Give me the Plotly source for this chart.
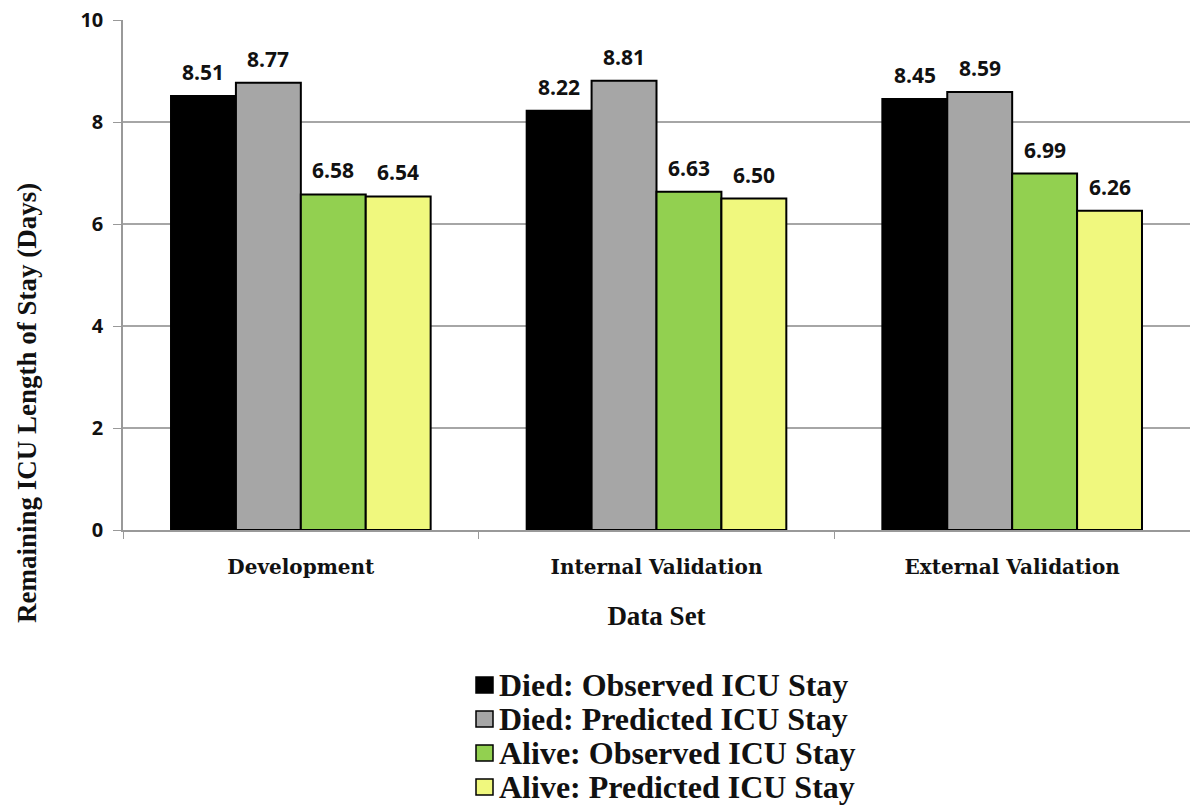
import plotly.graph_objects as go

# Data: remaining ICU length of stay (days) by data set
categories = ["Development", "Internal Validation", "External Validation"]
series_names = [
    "Died: Observed ICU Stay",
    "Died: Predicted ICU Stay",
    "Alive: Observed ICU Stay",
    "Alive: Predicted ICU Stay",
]
died_observed = [8.51, 8.22, 8.45]
died_predicted = [8.77, 8.81, 8.59]
alive_observed = [6.58, 6.63, 6.99]
alive_predicted = [6.54, 6.50, 6.26]
y_ticks = [0, 2, 4, 6, 8, 10]

series_values = [died_observed, died_predicted, alive_observed, alive_predicted]
colors = ["#000000", "#a6a6a6", "#92d050", "#f0f87e"]

SERIF = "Liberation Serif, serif"
SERIF_WIDE = "DejaVu Serif, serif"
SANS = "Open Sans, Lato, DejaVu Sans, sans-serif"

W, H = 1190, 808
ML, MR, MT, MB = 123, 0, 20, 278
BARGAP = 0.27

fig = go.Figure()
for name, vals, col in zip(series_names, series_values, colors):
    fig.add_trace(go.Bar(
        x=categories,
        y=vals,
        name=name,
        marker=dict(color=col, line=dict(color="#000000", width=2)),
        showlegend=False,
    ))

# Value labels above each bar, positioned from the bar values
pw, ph = W - ML - MR, H - MT - MB
bar_px = pw / len(categories) * (1 - BARGAP) / len(series_names)
for i, vals in enumerate(series_values):
    off = (i - (len(series_names) - 1) / 2) * bar_px
    for cat, v in zip(categories, vals):
        fig.add_annotation(
            x=cat, y=v, xref="x", yref="y",
            text=f"{v:.2f}", showarrow=False,
            xanchor="center", yanchor="bottom",
            xshift=off, yshift=8,
            font=dict(family=SANS, size=21, color="#111111", weight="bold"),
        )

fig.update_layout(
    width=W, height=H,
    margin=dict(l=ML, r=MR, t=MT, b=MB, pad=0),
    paper_bgcolor="white",
    plot_bgcolor="white",
    barmode="group",
    bargap=BARGAP,
    bargroupgap=0,
    xaxis=dict(
        tickson="boundaries",
        ticks="outside",
        ticklen=7,
        tickcolor="#999999",
        showline=True,
        linecolor="#999999",
        linewidth=1.5,
        showgrid=False,
        tickfont=dict(family=SERIF_WIDE, size=20, color="#111111", weight="bold"),
        ticklabelstandoff=18,
        title=dict(text="Data Set", font=dict(family=SERIF, size=27, color="#111111", weight="bold"),
                   standoff=28),
    ),
    yaxis=dict(
        range=[0, 10],
        tickvals=y_ticks,
        ticks="outside",
        ticklen=8,
        tickcolor="#999999",
        showline=True,
        linecolor="#999999",
        linewidth=1.5,
        showgrid=True,
        gridcolor="#a6a6a6",
        gridwidth=1.5,
        zeroline=False,
        tickfont=dict(family=SANS, size=20, color="#111111", weight="bold"),
        ticklabelstandoff=6,
    ),
)

def px(xp):
    return (xp - ML) / pw

def py(yp):
    return (H - MB - yp) / ph

# Vertical axis title
fig.add_annotation(
    xref="paper", yref="paper",
    x=px(27), y=py(403),
    text="Remaining ICU Length of Stay (Days)",
    textangle=-90,
    showarrow=False,
    xanchor="center", yanchor="middle",
    font=dict(family=SERIF, size=27, color="#111111", weight="bold"),
)

# Legend: swatches with labels
row_y = [685, 719, 753, 787]
for name, col, yc in zip(series_names, colors, row_y):
    fig.add_shape(
        type="rect", xref="paper", yref="paper",
        x0=px(476), x1=px(493), y0=py(yc + 8), y1=py(yc - 8),
        fillcolor=col, line=dict(color="#000000", width=1.5),
    )
    fig.add_annotation(
        xref="paper", yref="paper",
        x=px(497), y=py(yc),
        text=name, showarrow=False,
        xanchor="left", yanchor="middle",
        font=dict(family=SERIF, size=32, color="#111111", weight="bold"),
    )

fig.write_html("out.html")
